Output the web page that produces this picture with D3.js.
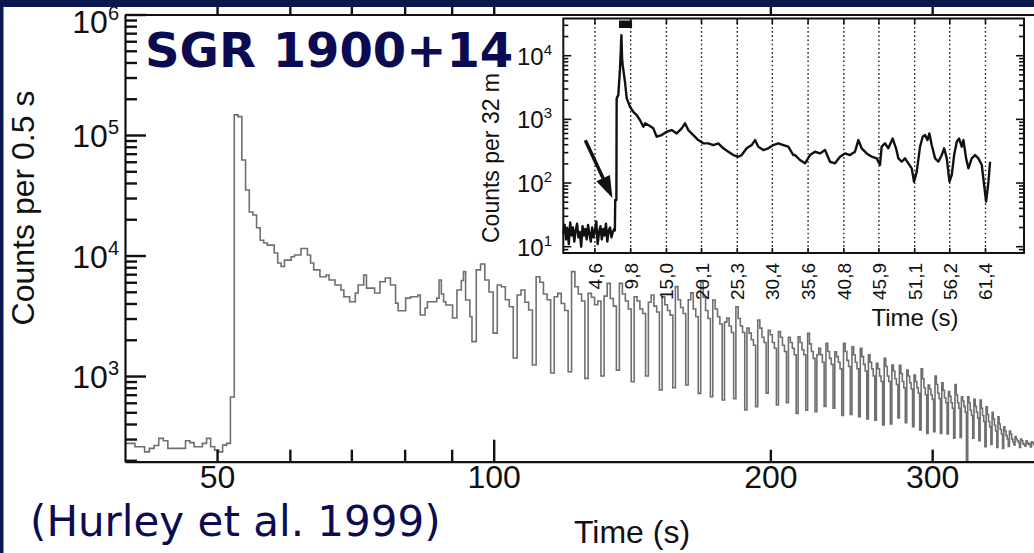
<!DOCTYPE html>
<html>
<head>
<meta charset="utf-8">
<script src="https://cdn.jsdelivr.net/npm/d3@7"></script>
<style>
html, body { margin: 0; padding: 0; background: #fff; }
svg { display: block; }
</style>
</head>
<body>
<svg id="chart" width="1034" height="553"></svg>
<script>
// ---- main light curve: 0.5 s bins from 39.7 s ----
var earlyStart = 39.7, earlyBin = 0.5;
var earlyCounts = [
  276,276,259,259,235,251,265,304,290,251,
  251,251,251,290,280,259,259,276,304,259,
  243,235,267,276,670,147000,142000,62000,35000,23000,
  21700,17000,13400,12700,12200,12200,10500,8670,8100,9160,
  9160,9770,10100,10100,11450,11450,10100,8670,7600,7600,
  6660,6660,6900,6260,6260,5700,5700,5170,4550,4550,
  4140,4140,4880,5700,5700,6870,5360,5360,5360,4880,
  4880,6060,6060,6500,6500,5700,5700,4030,3480,3480,
  3480,4430,4430,4550,4550,4550,4700,3210,3210,3670,
  4140,4140,4140,4140,4430,6260,4800,4140,3880,3880,
  3880,3030,3030,5170,5170,6200,7350,4270,4270,3100
];
// ---- pulsating tail: 5 bins per 5.16 s cycle, one row per cycle ----
var tailStart = 94.7, tailBin = 1.032;
var tailCounts = [
  1930,7600,8500,6260,4980,
  2270,5700,5500,4300,3760,
  1410,4700,5170,4100,3530,
  1235,6660,6000,4800,4300,
  1060,4550,4850,4000,3500,
  1085,7350,5500,4800,4200,
  957,4850,4500,3900,4200,
  1000,4600,5870,4400,3800,
  1120,5870,4800,4200,3600,
  897,4550,4200,3600,3300,
  1000,4100,4700,3800,3400,
  766,4550,3900,3500,3200,
  800,5520,4300,3700,3300,
  842,4300,4900,3600,3100,
  718,6000,4500,3500,3000,
  674,4270,3600,3100,2700,
  632,2800,3030,2600,2300,
  650,3760,3000,2600,2300,
  522,2500,2270,2000,1800,
  556,2910,2500,2100,1900,
  722,2400,2200,1900,1700,
  575,2340,2100,1800,1600,
  600,2100,1900,1700,1500,
  490,2120,1900,1650,1500,
  520,2260,1850,1600,1400,
  506,1500,1700,1500,1300,
  560,1867,1600,1400,1250,
  540,1590,1450,1300,1150,
  470,1867,1600,1350,1200,
  480,1750,1500,1300,1150,
  460,1697,1450,1250,1100,
  440,1500,1300,1150,1000,
  431,1274,1150,1000,900,
  392,1401,1200,1000,900,
  400,1234,1100,950,850,
  450,1230,1050,900,800,
  410,1121,1000,880,780,
  380,1019,900,800,720,
  357,1150,950,800,700,
  334,842,780,700,640,
  345,1000,850,720,650,
  334,880,760,660,600,
  330,742,680,600,540,
  305,850,700,600,540,
  310,674,620,560,500,
  120,674,600,520,470,
  305,640,560,500,450,
  290,632,540,470,420,
  259,556,480,420,380,
  270,500,440,390,350,
  255,459,400,360,330,
  251,380,350,320,300,
  260,350,330,300,285,
  268,314,300,290,280,
  255,300,290,275,270,
  262,290,280,270,275,
  258,285,278,270,265,
  260,280,272,268,262,
  258,275,268,265,260
];
var mainXTicks = [50, 60, 70, 80, 90, 100, 200, 300];
var mainXLabels = [50, 100, 200, 300];
var mainYExp = [3, 4, 5, 6];

// ---- inset (32 ms light curve) ----
var insetPreStart = 0, insetPreBin = 0.2;
var insetPreCounts = [16,22,13,19,11,24,15,20,12,18,23,14,17,10,21,15,19,13,22,16,
                      12,20,14,18,25,11,17,21,13,19,15,23,12,18,20,14,17,19];
var insetTime = [7.5,7.55,7.72,7.76,8.0,8.25,8.45,8.55,8.64,8.97,
  9.22,9.7,10.18,10.67,11.15,11.64,11.9,12.36,13.09,13.58,
  14.31,15.04,15.76,16.49,17.22,17.7,18.18,18.91,19.63,20.36,
  21.09,21.82,22.54,23.27,24.0,24.72,25.45,25.94,26.67,27.4,
  27.88,28.36,29.09,29.81,30.54,31.27,32.0,32.72,33.45,33.7,
  34.42,35.15,35.88,36.6,37.33,38.06,38.79,39.52,40.24,40.97,
  41.7,42.42,42.91,43.39,44.12,44.85,45.57,46.06,46.3,46.79,
  47.27,47.9,48.39,48.73,49.21,49.7,50.18,50.67,51.01,51.4,
  51.88,52.27,52.61,52.95,53.24,53.58,54.07,54.55,55.04,55.38,
  55.77,56.16,56.5,56.84,57.22,57.56,57.95,58.19,58.58,58.91,
  59.4,59.89,60.37,60.86,61.2,61.49,61.83,62.07];
var insetCounts = [18,54,54,2140,2400,6320,21000,9000,7110,3890,
  2140,1578,1314,1170,975,766,865,815,722,534,
  567,639,680,602,722,865,680,567,473,420,
  420,395,420,351,310,275,259,275,351,395,
  473,372,330,351,395,420,395,372,275,275,
  230,204,275,310,292,330,216,204,259,292,
  275,310,473,351,292,259,244,192,372,420,
  351,500,351,244,216,244,204,170,105,150,
  372,534,567,473,602,395,244,216,275,351,
  244,105,134,275,444,500,372,473,244,170,
  244,275,244,192,93,51,105,216];
var insetTicks = [4.6, 9.8, 15.0, 20.1, 25.3, 30.4, 35.6, 40.8, 45.9, 51.1, 56.2, 61.4];
var insetTickLabels = ["4,6","9,8","15,0","20,1","25,3","30,4","35,6","40,8","45,9","51,1","56,2","61,4"];
var insetYExp = [1, 2, 3, 4];
var arrowFrom = [3.2, 470], arrowTo = [7.15, 58];
var saturated = [8.1, 10.0];

var svg = d3.select("#chart");
var plotFont = "'Liberation Sans', Arial, Helvetica, sans-serif";
var slideFont = "'DejaVu Sans', Verdana, sans-serif";
var navy = "#0b1850", ink = "#0b0b52";

// ---------- main chart ----------
var x = d3.scaleLog().domain([39.7, 400]).range([125, 1047]);
var y = d3.scaleLog().domain([194.6, 1e6]).range([461.7, 14.5]);

var defs = svg.append("defs");
defs.append("clipPath").attr("id", "mainClip").append("rect")
  .attr("x", 125).attr("y", 14.5).attr("width", 922).attr("height", 447.2);

var pts = [];
earlyCounts.forEach(function (c, i) { pts.push([earlyStart + i * earlyBin, c]); });
tailCounts.forEach(function (c, i) { pts.push([tailStart + i * tailBin, c]); });
pts.push([tailStart + tailCounts.length * tailBin, tailCounts[tailCounts.length - 1]]);

var stepLine = d3.line()
  .x(function (d) { return x(d[0]); })
  .y(function (d) { return y(d[1]); })
  .curve(d3.curveStepAfter);

svg.append("path")
  .attr("clip-path", "url(#mainClip)")
  .attr("d", stepLine(pts))
  .attr("fill", "none")
  .attr("stroke", "#6f6f6f")
  .attr("stroke-width", 1.6);

// bottom axis
var gx = svg.append("g").attr("transform", "translate(0,461.7)")
  .call(d3.axisBottom(x).tickValues(mainXTicks).tickSize(-12).tickSizeOuter(0).tickPadding(4)
    .tickFormat(function (d) { return mainXLabels.indexOf(d) >= 0 ? d : ""; }));
gx.selectAll(".tick").filter(function (d) { return d === 100; }).select("line").attr("y2", -22);

// top axis
var gt = svg.append("g").attr("transform", "translate(0,14.5)")
  .call(d3.axisTop(x).tickValues(mainXTicks).tickSize(8).tickSizeOuter(0).tickFormat(""));

// left axis
var yTicks = [];
[2, 3, 4, 5].forEach(function (e) {
  for (var m = 1; m <= 9; m++) {
    var v = m * Math.pow(10, e);
    if (v >= 194.6 && v <= 1e6) yTicks.push(v);
  }
});
yTicks.push(1e6);
var gy = svg.append("g").attr("transform", "translate(125,0)")
  .call(d3.axisLeft(y).tickValues(yTicks).tickSize(-12).tickSizeOuter(0).tickFormat(""));
gy.selectAll(".tick").filter(function (d) { return Math.abs(Math.log10(d) % 1) < 1e-9; })
  .select("line").attr("x2", 21);

[gx, gt, gy].forEach(function (g) {
  g.attr("font-family", plotFont).attr("font-size", 32);
  g.select(".domain").attr("stroke", "#111").attr("stroke-width", 2.2);
  g.selectAll(".tick line").attr("stroke", "#111").attr("stroke-width", 2.4);
  g.selectAll(".tick text").attr("fill", "#111");
});

mainYExp.forEach(function (e) {
  var t = svg.append("text")
    .attr("x", 119).attr("y", Math.max(y(Math.pow(10, e)) + 12, 33))
    .attr("text-anchor", "end")
    .attr("font-family", plotFont).attr("font-size", 32).attr("fill", "#111");
  t.append("tspan").text("10");
  t.append("tspan").attr("dy", -13).attr("font-size", 20).text(e);
});

svg.append("text")
  .attr("transform", "translate(34,208) rotate(-90)")
  .attr("text-anchor", "middle")
  .attr("font-family", plotFont).attr("font-size", 32).attr("fill", "#111")
  .text("Counts per 0.5 s");

svg.append("text")
  .attr("x", 632).attr("y", 543)
  .attr("text-anchor", "middle")
  .attr("font-family", plotFont).attr("font-size", 32).attr("fill", "#111")
  .text("Time (s)");

// ---------- inset ----------
var xi = d3.scaleLinear().domain([0, 67]).range([563.3, 1024]);
var yi = d3.scaleLog().domain([7.96, 38400]).range([253, 18.5]);
var L = 563.3, R = 1024, T = 18.5, B = 253;

svg.append("rect").attr("x", L).attr("y", T).attr("width", R - L).attr("height", B - T)
  .attr("fill", "#fff");

svg.append("g").selectAll("line").data(insetTicks).enter().append("line")
  .attr("x1", function (d) { return xi(d); }).attr("x2", function (d) { return xi(d); })
  .attr("y1", T).attr("y2", B)
  .attr("stroke", "#222").attr("stroke-width", 1.4).attr("stroke-dasharray", "1.6,2.6");

var insetPts = [];
insetPreCounts.forEach(function (c, i) { insetPts.push([insetPreStart + i * insetPreBin, c]); });
insetTime.forEach(function (t, i) { insetPts.push([t, insetCounts[i]]); });

svg.append("path")
  .attr("d", d3.line().x(function (d) { return xi(d[0]); }).y(function (d) { return yi(d[1]); })(insetPts))
  .attr("fill", "none").attr("stroke", "#111").attr("stroke-width", 2.4).attr("stroke-linejoin", "round");

svg.append("rect")
  .attr("x", xi(saturated[0])).attr("y", 20.5)
  .attr("width", xi(saturated[1]) - xi(saturated[0])).attr("height", 7.5)
  .attr("fill", "#111");

// arrow
var ax1 = xi(arrowFrom[0]), ay1 = yi(arrowFrom[1]), ax2 = xi(arrowTo[0]), ay2 = yi(arrowTo[1]);
var ang = Math.atan2(ay2 - ay1, ax2 - ax1), headLen = 22, headW = 7.5;
var bx = ax2 - headLen * Math.cos(ang), by = ay2 - headLen * Math.sin(ang);
svg.append("line").attr("x1", ax1).attr("y1", ay1).attr("x2", bx).attr("y2", by)
  .attr("stroke", "#111").attr("stroke-width", 3.5);
svg.append("polygon")
  .attr("points", [[ax2, ay2],
    [bx + headW * Math.sin(ang), by - headW * Math.cos(ang)],
    [bx - headW * Math.sin(ang), by + headW * Math.cos(ang)]].map(function (p) { return p.join(","); }).join(" "))
  .attr("fill", "#111");

// inset frame and ticks
svg.append("rect").attr("x", L).attr("y", T).attr("width", R - L).attr("height", B - T)
  .attr("fill", "none").attr("stroke", "#111").attr("stroke-width", 2);

var iyTicks = [];
[0, 1, 2, 3, 4].forEach(function (e) {
  for (var m = 1; m <= 9; m++) {
    var v = m * Math.pow(10, e);
    if (v >= 7.96 && v <= 38400) iyTicks.push({ v: v, major: m === 1 });
  }
});
var tk = svg.append("g").attr("stroke", "#111").attr("stroke-width", 1.6);
iyTicks.forEach(function (d) {
  var len = d.major ? 8 : 5;
  tk.append("line").attr("x1", L).attr("x2", L + len).attr("y1", yi(d.v)).attr("y2", yi(d.v));
  tk.append("line").attr("x1", R).attr("x2", R - len).attr("y1", yi(d.v)).attr("y2", yi(d.v));
});
insetTicks.forEach(function (t) {
  tk.append("line").attr("x1", xi(t)).attr("x2", xi(t)).attr("y1", B).attr("y2", B - 5);
  tk.append("line").attr("x1", xi(t)).attr("x2", xi(t)).attr("y1", T).attr("y2", T + 6);
});

insetYExp.forEach(function (e) {
  var t = svg.append("text")
    .attr("x", 552).attr("y", yi(Math.pow(10, e)) + 9)
    .attr("text-anchor", "end")
    .attr("font-family", plotFont).attr("font-size", 24).attr("fill", "#111");
  t.append("tspan").text("10");
  t.append("tspan").attr("dy", -10).attr("font-size", 15).text(e);
});

insetTicks.forEach(function (t, i) {
  var tx = xi(t) + 7, ty = 263;
  svg.append("text")
    .attr("transform", "translate(" + tx + "," + ty + ") rotate(-90)")
    .attr("text-anchor", "end")
    .attr("font-family", plotFont).attr("font-size", 19).attr("fill", "#111")
    .text(insetTickLabels[i]);
});

svg.append("text")
  .attr("x", 915).attr("y", 326)
  .attr("text-anchor", "middle")
  .attr("font-family", plotFont).attr("font-size", 24).attr("fill", "#111")
  .text("Time (s)");

svg.append("text")
  .attr("transform", "translate(499,243) rotate(-90)")
  .attr("text-anchor", "start")
  .attr("font-family", plotFont).attr("font-size", 23).attr("fill", "#111")
  .text("Counts per 32 ms");

// ---------- slide text and frame ----------
svg.append("rect").attr("x", 140).attr("y", 25).attr("width", 375).attr("height", 47).attr("fill", "#fff");
svg.append("text")
  .attr("x", 145).attr("y", 67)
  .attr("font-family", slideFont).attr("font-weight", "bold").attr("font-size", 48).attr("fill", ink)
  .text("SGR 1900+14");

svg.append("text")
  .attr("x", 30).attr("y", 536)
  .attr("font-family", slideFont).attr("font-size", 42).attr("fill", ink)
  .text("(Hurley et al. 1999)");

svg.append("rect").attr("x", 0).attr("y", 0).attr("width", 1034).attr("height", 7).attr("fill", navy);
svg.append("rect").attr("x", 0).attr("y", 0).attr("width", 3.5).attr("height", 553).attr("fill", navy);
</script>
</body>
</html>
